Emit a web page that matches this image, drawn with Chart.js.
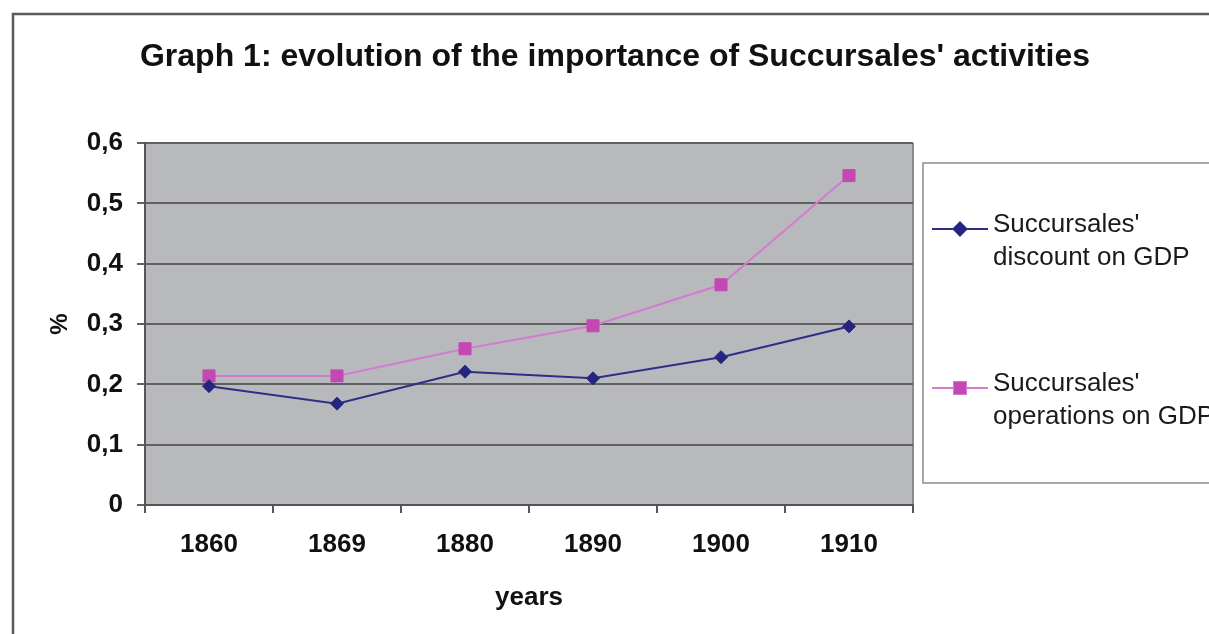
<!DOCTYPE html>
<html>
<head>
<meta charset="utf-8">
<script src="https://cdn.jsdelivr.net/npm/chart.js@4"></script>
<style>
    html, body { margin: 0; padding: 0; background: #fff; }
    #wrap { position: relative; width: 1209px; height: 634px; }
</style>
</head>
<body>
<div id="wrap"><canvas id="chart" width="1209" height="634"></canvas></div>
<script>
const years = ['1860', '1869', '1880', '1890', '1900', '1910'];
const discountOnGdp = [0.197, 0.168, 0.221, 0.210, 0.245, 0.296];
const operationsOnGdp = [0.214, 0.214, 0.259, 0.297, 0.365, 0.546];
const discountLabel = ["Succursales'", 'discount on GDP'];
const operationsLabel = ["Succursales'", 'operations on GDP'];
const yTicks = [0, 0.1, 0.2, 0.3, 0.4, 0.5, 0.6];
const chartTitle = "Graph 1: evolution of the importance of Succursales' activities";

const fontFamily = '"Liberation Sans", Arial, sans-serif';

// white page, outer frame, title, grey plot background
const framePlugin = {
    id: 'frame',
    beforeDraw: (chart) => {
        const { ctx, chartArea } = chart;
        ctx.save();
        ctx.fillStyle = '#ffffff';
        ctx.fillRect(0, 0, chart.width, chart.height);
        ctx.strokeStyle = '#5a5a5a';
        ctx.lineWidth = 2.5;
        ctx.strokeRect(13, 14, chart.width + 20, chart.height + 20);

        ctx.fillStyle = '#111';
        ctx.font = `bold 32px ${fontFamily}`;
        ctx.textAlign = 'center';
        ctx.textBaseline = 'middle';
        ctx.fillText(chartTitle, 615, 57);

        ctx.fillStyle = '#b8b9bd';
        ctx.fillRect(chartArea.left, chartArea.top, chartArea.right - chartArea.left, chartArea.bottom - chartArea.top);
        ctx.strokeStyle = '#8a8a8e';
        ctx.lineWidth = 2;
        ctx.beginPath();
        ctx.moveTo(chartArea.right, chartArea.top);
        ctx.lineTo(chartArea.right, chartArea.bottom);
        ctx.stroke();
        ctx.restore();
    }
};

// boxed legend on the right, multi-line entries
const boxLegendPlugin = {
    id: 'boxLegend',
    afterDraw: (chart) => {
        const { ctx } = chart;
        ctx.save();
        ctx.strokeStyle = '#8c8c8c';
        ctx.lineWidth = 1.5;
        ctx.strokeRect(923, 163, 300, 320);

        const entries = [
            { lines: discountLabel, y: 229, ds: chart.data.datasets[0] },
            { lines: operationsLabel, y: 388, ds: chart.data.datasets[1] }
        ];
        entries.forEach(entry => {
            ctx.strokeStyle = entry.ds.borderColor;
            ctx.lineWidth = 2;
            ctx.beginPath();
            ctx.moveTo(932, entry.y);
            ctx.lineTo(988, entry.y);
            ctx.stroke();
            Chart.helpers.drawPoint(ctx, {
                pointStyle: entry.ds.pointStyle,
                radius: entry.ds.pointRadius,
                borderWidth: 1
            }, 960, entry.y);
            ctx.fillStyle = entry.ds.pointBackgroundColor;
            ctx.fill();

            ctx.fillStyle = '#1a1a1a';
            ctx.font = `26px ${fontFamily}`;
            ctx.textAlign = 'left';
            ctx.textBaseline = 'middle';
            entry.lines.forEach((line, i) => {
                ctx.fillText(line, 993, entry.y - 4 + i * 33);
            });
        });
        ctx.restore();
    }
};

const ctx = document.getElementById('chart').getContext('2d');
new Chart(ctx, {
    type: 'line',
    data: {
        labels: years,
        datasets: [
            {
                label: discountLabel.join(' '),
                data: discountOnGdp,
                borderColor: '#2e2e86',
                backgroundColor: '#2e2e86',
                pointBackgroundColor: '#262680',
                pointBorderColor: '#262680',
                pointStyle: 'rectRot',
                pointRadius: 6.5,
                pointBorderWidth: 1,
                borderWidth: 2,
                tension: 0
            },
            {
                label: operationsLabel.join(' '),
                data: operationsOnGdp,
                borderColor: '#d67ad0',
                backgroundColor: '#c448b4',
                pointBackgroundColor: '#c448b4',
                pointBorderColor: '#c448b4',
                pointStyle: 'rect',
                pointRadius: 8.5,
                pointBorderWidth: 1,
                borderWidth: 2,
                tension: 0
            }
        ]
    },
    options: {
        responsive: false,
        animation: false,
        layout: {
            padding: { left: 0, right: 296, top: 143, bottom: 0 }
        },
        plugins: {
            legend: { display: false },
            tooltip: { enabled: false },
            title: { display: false }
        },
        scales: {
            x: {
                offset: true,
                grid: {
                    offset: true,
                    drawOnChartArea: false,
                    drawTicks: true,
                    tickLength: 8,
                    color: '#555',
                    lineWidth: 2
                },
                border: { color: '#555', width: 2 },
                ticks: {
                    color: '#111',
                    font: { family: fontFamily, size: 26, weight: 'bold' },
                    padding: 16,
                    maxRotation: 0
                },
                title: {
                    display: true,
                    text: 'years',
                    color: '#111',
                    font: { family: fontFamily, size: 26, weight: 'bold' },
                    padding: { top: 0, bottom: 21 }
                },
                afterFit: (scale) => { scale.height = 129; }
            },
            y: {
                min: 0,
                max: 0.6,
                afterBuildTicks: (scale) => {
                    scale.ticks = yTicks.map(v => ({ value: v }));
                },
                grid: {
                    color: '#606060',
                    lineWidth: 2,
                    drawTicks: true,
                    tickLength: 8
                },
                border: { color: '#555', width: 2 },
                ticks: {
                    color: '#111',
                    font: { family: fontFamily, size: 26, weight: 'bold' },
                    padding: 14,
                    callback: (value) => value === 0 ? '0' : value.toFixed(1).replace('.', ',')
                },
                title: {
                    display: true,
                    text: '%',
                    color: '#111',
                    font: { family: fontFamily, size: 24, weight: 'bold' },
                    padding: { top: 46, bottom: 0 }
                },
                afterFit: (scale) => { scale.width = 145; }
            }
        }
    },
    plugins: [framePlugin, boxLegendPlugin]
});
</script>
</body>
</html>
